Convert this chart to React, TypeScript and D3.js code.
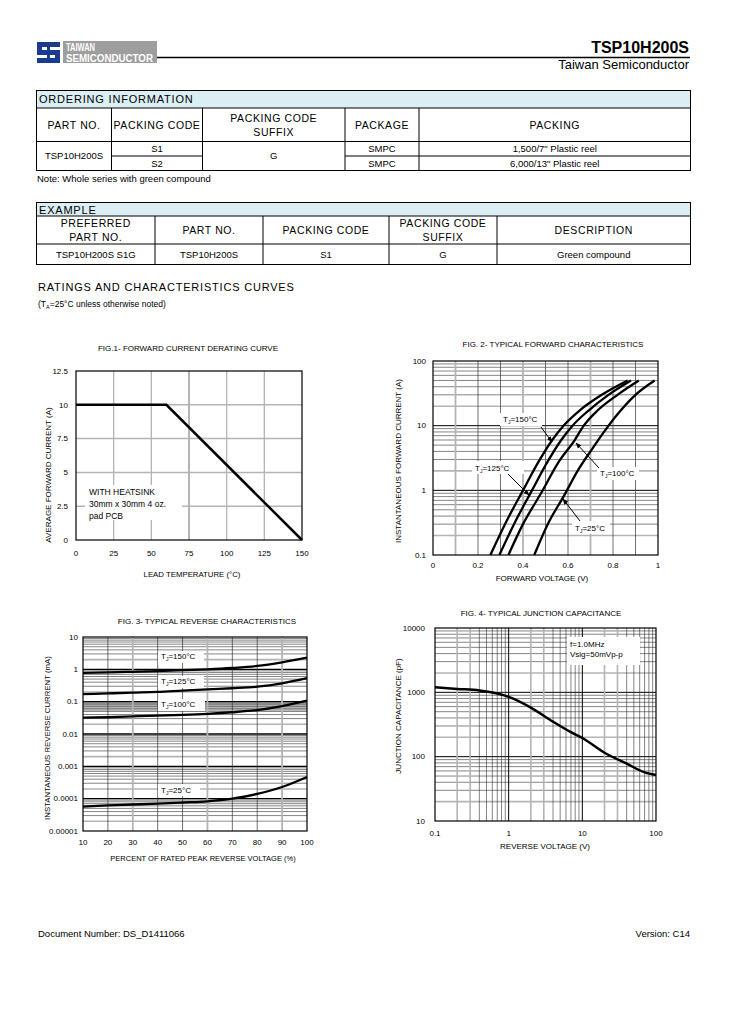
import React from 'react';
import * as d3 from 'd3';

const FONT = '"Liberation Sans", Arial, Helvetica, sans-serif';

// ---------- Tables ----------
const orderingHeaders = [['PART NO.'], ['PACKING CODE'], ['PACKING CODE', 'SUFFIX'], ['PACKAGE'], ['PACKING']];
const orderingPartNo = 'TSP10H200S';
const orderingPackingCodes = ['S1', 'S2'];
const orderingSuffix = 'G';
const orderingPackages = ['SMPC', 'SMPC'];
const orderingPacking = ['1,500/7" Plastic reel', '6,000/13" Plastic reel'];
const exampleHeaders = [['PREFERRED', 'PART NO.'], ['PART NO.'], ['PACKING CODE'], ['PACKING CODE', 'SUFFIX'], ['DESCRIPTION']];
const exampleRow = ['TSP10H200S S1G', 'TSP10H200S', 'S1', 'G', 'Green compound'];

// ---------- Fig 1 ----------
const fig1Temp = [0, 60, 150];
const fig1Current = [10, 10, 0];
const fig1XTicks = [0, 25, 50, 75, 100, 125, 150];
const fig1YTicks = [0, 2.5, 5, 7.5, 10, 12.5];

// ---------- Fig 2 ----------
const fig2V150 = [0.255, 0.32, 0.4, 0.47, 0.53, 0.58, 0.65, 0.75, 0.865];
const fig2I150 = [0.1, 0.3, 1.0, 2.8, 6, 10, 17, 30, 50];
const fig2V125 = [0.295, 0.36, 0.44, 0.51, 0.57, 0.62, 0.69, 0.78, 0.88];
const fig2I125 = [0.1, 0.3, 1.0, 2.8, 6, 10, 17, 30, 50];
const fig2V100 = [0.335, 0.4, 0.48, 0.56, 0.63, 0.67, 0.73, 0.82, 0.915];
const fig2I100 = [0.1, 0.3, 0.9, 2.8, 6, 10, 17, 30, 50];
const fig2V25 = [0.45, 0.51, 0.58, 0.65, 0.71, 0.76, 0.82, 0.9, 0.985];
const fig2I25 = [0.1, 0.3, 0.8, 2.2, 4.5, 8, 15, 30, 50];
const fig2XTicks = [0, 0.2, 0.4, 0.6, 0.8, 1];
const fig2YTicks = [0.1, 1, 10, 100];

// ---------- Fig 3 ----------
const fig3Percent = [10, 20, 30, 40, 50, 60, 70, 80, 90, 100];
const fig3I150 = [0.78, 0.8, 0.84, 0.88, 0.94, 1.0, 1.1, 1.27, 1.65, 2.3];
const fig3I125 = [0.17, 0.18, 0.19, 0.2, 0.22, 0.24, 0.26, 0.29, 0.37, 0.53];
const fig3I100 = [0.032, 0.033, 0.035, 0.037, 0.039, 0.042, 0.047, 0.055, 0.073, 0.107];
const fig3I25 = [0.000057, 0.000062, 0.000066, 0.00007, 0.000076, 0.000083, 0.0001, 0.00014, 0.00023, 0.00047];
const fig3YTicks = [10, 1, 0.1, 0.01, 0.001, 0.0001, 0.00001];
const fig3YTickLabels = ['10', '1', '0.1', '0.01', '0.001', '0.0001', '0.00001'];

// ---------- Fig 4 ----------
const fig4Voltage = [0.1, 0.2, 0.4, 0.7, 1, 2, 4, 7, 10, 20, 40, 70, 100];
const fig4Cap = [1200, 1130, 1070, 960, 850, 580, 350, 240, 195, 115, 78, 57, 52];
const fig4XTicks = [0.1, 1, 10, 100];
const fig4YTicks = [10, 100, 1000, 10000];

type GL = { v: number; gray: boolean; major: boolean };

function logGrid(min: number, max: number, grayMs: number[]): GL[] {
  const out: GL[] = [];
  const e0 = Math.round(Math.log10(min));
  const e1 = Math.round(Math.log10(max));
  for (let e = e0; e < e1; e++) {
    const base = Math.pow(10, e);
    for (let m = 1; m < 10; m++) {
      if (e === e0 && m === 1) continue;
      out.push({ v: m * base, gray: grayMs.includes(m), major: m === 1 });
    }
  }
  return out;
}

const GRAY = '#b4b4b4';

function gridStroke(g: GL) {
  if (g.gray) return { stroke: GRAY, strokeWidth: 1.6 };
  if (g.major) return { stroke: '#000', strokeWidth: 1 };
  return { stroke: '#333', strokeWidth: 0.6 };
}

function TJ({ x, y, t, anchor = 'start' }: { x: number; y: number; t: string; anchor?: string }) {
  return (
    <text x={x} y={y} fontSize={8} fontFamily={FONT} textAnchor={anchor as any}>
      T<tspan fontSize={5} dy={2}>J</tspan>
      <tspan dy={-2}>={t}°C</tspan>
    </text>
  );
}

function Arrow({ x1, y1, x2, y2 }: { x1: number; y1: number; x2: number; y2: number }) {
  return <line x1={x1} y1={y1} x2={x2} y2={y2} stroke="#000" strokeWidth={1} markerEnd="url(#arr)" />;
}

function Cell({ x, y, lines, size = 10.5, ls = 0.6, lh = 14 }: any) {
  const n = lines.length;
  return (
    <g>
      {lines.map((t: string, i: number) => (
        <text key={i} x={x} y={y + (i - (n - 1) / 2) * lh} dy="0.36em" textAnchor="middle" fontSize={size} letterSpacing={ls} fontFamily={FONT}>
          {t}
        </text>
      ))}
    </g>
  );
}

function Fig1() {
  const x = d3.scaleLinear().domain([0, 150]).range([76, 302]);
  const y = d3.scaleLinear().domain([0, 12.5]).range([540, 371]);
  const line = d3.line<number>().x((_, i) => x(fig1Temp[i])).y((d) => y(d));
  return (
    <g fontFamily={FONT}>
      <text x={188} y={351} fontSize={8} textAnchor="middle">FIG.1- FORWARD CURRENT DERATING CURVE</text>
      {fig1XTicks.slice(1, -1).map((t) => (
        <line key={'v' + t} x1={x(t)} x2={x(t)} y1={371} y2={540} stroke={GRAY} strokeWidth={t === 75 ? 2 : 1.3} />
      ))}
      {fig1YTicks.slice(1, -1).map((t) => (
        <line key={'h' + t} x1={76} x2={302} y1={y(t)} y2={y(t)} stroke={GRAY} strokeWidth={1.5} />
      ))}
      <rect x={85} y={485} width={97} height={35} fill="#fff" />
      <text x={89} y={495} fontSize={8.5}>WITH HEATSINK</text>
      <text x={89} y={507} fontSize={8.5}>30mm x 30mm 4 oz.</text>
      <text x={89} y={519} fontSize={8.5}>pad PCB</text>
      <rect x={76} y={371} width={226} height={169} fill="none" stroke="#000" strokeWidth={1.2} />
      <path d={line(fig1Current) || ''} fill="none" stroke="#000" strokeWidth={2.5} />
      {fig1XTicks.map((t) => (
        <text key={'xl' + t} x={x(t)} y={556} fontSize={8} textAnchor="middle">{t}</text>
      ))}
      {fig1YTicks.map((t) => (
        <text key={'yl' + t} x={68} y={y(t)} dy="0.35em" fontSize={8} textAnchor="end">{t}</text>
      ))}
      <text x={192} y={577} fontSize={7.8} textAnchor="middle">LEAD TEMPERATURE (°C)</text>
      <text transform="translate(48,475) rotate(-90)" dy="0.35em" fontSize={8} textAnchor="middle">AVERAGE FORWARD CURRENT (A)</text>
    </g>
  );
}

function Fig2() {
  const x = d3.scaleLinear().domain([0, 1]).range([433, 658]);
  const y = d3.scaleLog().domain([0.1, 100]).range([555, 361]);
  const mk = (vs: number[], is: number[]) =>
    d3.line<number>().x((_, i) => x(vs[i])).y((d) => y(d)).curve(d3.curveMonotoneX)(is) || '';
  const vgrid = d3.range(1, 10).map((k) => k / 10);
  const hgrid = logGrid(0.1, 100, [2]);
  return (
    <g fontFamily={FONT}>
      <text x={553} y={347} fontSize={8} textAnchor="middle">FIG. 2- TYPICAL FORWARD CHARACTERISTICS</text>
      {hgrid.map((g, i) => (
        <line key={'h' + i} x1={433} x2={658} y1={y(g.v)} y2={y(g.v)} {...gridStroke(g)} />
      ))}
      {vgrid.map((v, i) => {
        const gray = i % 3 === 0;
        return <line key={'v' + i} x1={x(v)} x2={x(v)} y1={361} y2={555} stroke={gray ? GRAY : '#333'} strokeWidth={gray ? 1.8 : 0.7} />;
      })}
      <rect x={433} y={361} width={225} height={194} fill="none" stroke="#000" strokeWidth={1.2} />
      <path d={mk(fig2V150, fig2I150)} fill="none" stroke="#000" strokeWidth={2.3} />
      <path d={mk(fig2V125, fig2I125)} fill="none" stroke="#000" strokeWidth={2.3} />
      <path d={mk(fig2V100, fig2I100)} fill="none" stroke="#000" strokeWidth={2.3} />
      <path d={mk(fig2V25, fig2I25)} fill="none" stroke="#000" strokeWidth={2.3} />
      <rect x={500} y={413} width={42} height={13} fill="#fff" />
      <TJ x={503} y={422} t="150" />
      <Arrow x1={541} y1={427} x2={552} y2={442} />
      <rect x={472} y={461} width={52} height={13} fill="#fff" />
      <TJ x={475} y={470.5} t="125" />
      <Arrow x1={508} y1={474} x2={529} y2={495} />
      <rect x={597} y={467} width={42} height={13} fill="#fff" />
      <TJ x={600} y={476} t="100" />
      <Arrow x1={599} y1={468} x2={576} y2={443} />
      <rect x={572} y={521} width={38} height={13} fill="#fff" />
      <TJ x={575} y={530.5} t="25" />
      <Arrow x1={580} y1={521} x2={563} y2={499} />
      {fig2XTicks.map((t) => (
        <text key={'xl' + t} x={x(t)} y={568} fontSize={8} textAnchor="middle">{t}</text>
      ))}
      {fig2YTicks.map((t) => (
        <text key={'yl' + t} x={426} y={y(t)} dy="0.35em" fontSize={8} textAnchor="end">{t}</text>
      ))}
      <text x={542} y={581} fontSize={8} textAnchor="middle">FORWARD VOLTAGE (V)</text>
      <text transform="translate(398,461) rotate(-90)" dy="0.35em" fontSize={8} textAnchor="middle">INSTANTANEOUS FORWARD CURRENT (A)</text>
    </g>
  );
}

function Fig3() {
  const x = d3.scaleLinear().domain([10, 100]).range([83, 307]);
  const y = d3.scaleLog().domain([0.00001, 10]).range([831, 637]);
  const mk = (is: number[]) =>
    d3.line<number>().x((_, i) => x(fig3Percent[i])).y((d) => y(d)).curve(d3.curveMonotoneX)(is) || '';
  const hgrid = logGrid(0.00001, 10, [2]);
  return (
    <g fontFamily={FONT}>
      <text x={207} y={624} fontSize={8} textAnchor="middle">FIG. 3- TYPICAL REVERSE CHARACTERISTICS</text>
      <rect x={83} y={y(0.1)} width={224} height={y(0.05) - y(0.1)} fill="#c4c4c4" />
      {hgrid.map((g, i) => (
        <line key={'h' + i} x1={83} x2={307} y1={y(g.v)} y2={y(g.v)} {...gridStroke(g)} strokeWidth={g.major ? 1.4 : gridStroke(g).strokeWidth} />
      ))}
      {fig3Percent.slice(1, -1).map((p) => {
        const gray = p === 30 || p === 60 || p === 90;
        return <line key={'v' + p} x1={x(p)} x2={x(p)} y1={637} y2={831} stroke={gray ? GRAY : '#333'} strokeWidth={gray ? 1.8 : 0.7} />;
      })}
      <rect x={83} y={637} width={224} height={194} fill="none" stroke="#000" strokeWidth={1.2} />
      <rect x={158} y={651} width={46} height={12} fill="#fff" />
      <TJ x={161} y={659} t="150" />
      <rect x={158} y={676} width={46} height={12} fill="#fff" />
      <TJ x={161} y={684} t="125" />
      <rect x={158} y={699} width={47} height={12} fill="#fff" />
      <TJ x={161} y={707} t="100" />
      <rect x={158} y={784} width={42} height={12} fill="#fff" />
      <TJ x={161} y={792.5} t="25" />
      <path d={mk(fig3I150)} fill="none" stroke="#000" strokeWidth={2.3} />
      <path d={mk(fig3I125)} fill="none" stroke="#000" strokeWidth={2.3} />
      <path d={mk(fig3I100)} fill="none" stroke="#000" strokeWidth={2.3} />
      <path d={mk(fig3I25)} fill="none" stroke="#000" strokeWidth={2.3} />
      {fig3Percent.map((t) => (
        <text key={'xl' + t} x={x(t)} y={845} fontSize={8} textAnchor="middle">{t}</text>
      ))}
      {fig3YTicks.map((t, i) => (
        <text key={'yl' + i} x={78} y={y(t)} dy="0.35em" fontSize={8} textAnchor="end">{fig3YTickLabels[i]}</text>
      ))}
      <text x={203} y={861} fontSize={7.5} textAnchor="middle">PERCENT OF RATED PEAK REVERSE VOLTAGE (%)</text>
      <text transform="translate(47,738) rotate(-90)" dy="0.35em" fontSize={7.8} textAnchor="middle">INSTANTANEOUS REVERSE CURRENT (mA)</text>
    </g>
  );
}

function Fig4() {
  const x = d3.scaleLog().domain([0.1, 100]).range([435, 656]);
  const y = d3.scaleLog().domain([10, 10000]).range([821, 628]);
  const line = d3.line<number>().x((_, i) => x(fig4Voltage[i])).y((d) => y(d)).curve(d3.curveMonotoneX);
  const vgrid = logGrid(0.1, 100, [2, 3]);
  const hgrid = logGrid(10, 10000, [2]);
  return (
    <g fontFamily={FONT}>
      <text x={541} y={616} fontSize={8} textAnchor="middle">FIG. 4- TYPICAL JUNCTION CAPACITANCE</text>
      {hgrid.map((g, i) => (
        <line key={'h' + i} x1={435} x2={656} y1={y(g.v)} y2={y(g.v)} {...gridStroke(g)} />
      ))}
      {vgrid.map((g, i) => (
        <line key={'v' + i} x1={x(g.v)} x2={x(g.v)} y1={628} y2={821} {...gridStroke(g)} />
      ))}
      <rect x={435} y={628} width={221} height={193} fill="none" stroke="#000" strokeWidth={1.2} />
      <rect x={567} y={637} width={73} height={28} fill="#fff" />
      <text x={570} y={647} fontSize={8}>f=1.0MHz</text>
      <text x={570} y={656.5} fontSize={8}>Vsig=50mVp-p</text>
      <path d={line(fig4Cap) || ''} fill="none" stroke="#000" strokeWidth={2.5} />
      {fig4XTicks.map((t) => (
        <text key={'xl' + t} x={x(t)} y={836} fontSize={8} textAnchor="middle">{t}</text>
      ))}
      {fig4YTicks.map((t) => (
        <text key={'yl' + t} x={425} y={y(t)} dy="0.35em" fontSize={8} textAnchor="end">{t}</text>
      ))}
      <text x={545} y={849} fontSize={8} textAnchor="middle">REVERSE VOLTAGE (V)</text>
      <text transform="translate(398,716) rotate(-90)" dy="0.35em" fontSize={8} textAnchor="middle">JUNCTION CAPACITANCE (pF)</text>
    </g>
  );
}

function Header() {
  return (
    <g fontFamily={FONT}>
      {/* logo icon */}
      <g fill="#1b3b8f">
        <rect x={37} y={42} width={23} height={5} />
        <rect x={37} y={42} width={5} height={12} />
        <rect x={37} y={50} width={23} height={5} />
        <rect x={55} y={50} width={5} height={12} />
        <rect x={37} y={58} width={23} height={5} />
        <rect x={47} y={44} width={3} height={17} />
      </g>
      <rect x={63} y={41} width={94} height={22} fill="#9e9e9e" />
      <text x={66} y={51} fontSize={10.5} fontWeight="bold" fill="#fff" textLength={29} lengthAdjust="spacingAndGlyphs">TAIWAN</text>
      <text x={66} y={61.5} fontSize={10.5} fontWeight="bold" fill="#fff" textLength={87} lengthAdjust="spacingAndGlyphs">SEMICONDUCTOR</text>
      <line x1={157} x2={690} y1={57.5} y2={57.5} stroke="#000" strokeWidth={1.3} />
      <text x={689} y={53} fontSize={16} fontWeight="bold" textAnchor="end">TSP10H200S</text>
      <text x={689} y={69} fontSize={13} textAnchor="end">Taiwan Semiconductor</text>
    </g>
  );
}

function OrderingTable() {
  const cols = [36.5, 111.5, 202.5, 345, 419, 690.5];
  const rows = [90.5, 108, 141.5, 156, 170.5];
  const mid = (i: number) => (cols[i] + cols[i + 1]) / 2;
  return (
    <g fontFamily={FONT}>
      <rect x={cols[0]} y={rows[0]} width={cols[5] - cols[0]} height={rows[1] - rows[0]} fill="#dbeef3" />
      <text x={39} y={103} fontSize={11} letterSpacing={0.8}>ORDERING INFORMATION</text>
      {orderingHeaders.map((h, i) => (
        <Cell key={i} x={mid(i)} y={(rows[1] + rows[2]) / 2} lines={h} />
      ))}
      <Cell x={mid(0)} y={(rows[2] + rows[4]) / 2} lines={[orderingPartNo]} size={9.5} ls={0} />
      <Cell x={mid(2)} y={(rows[2] + rows[4]) / 2} lines={[orderingSuffix]} size={9.5} ls={0} />
      {orderingPackingCodes.map((c, r) => (
        <g key={r}>
          <Cell x={mid(1)} y={(rows[2 + r] + rows[3 + r]) / 2} lines={[c]} size={9.5} ls={0} />
          <Cell x={mid(3)} y={(rows[2 + r] + rows[3 + r]) / 2} lines={[orderingPackages[r]]} size={9.5} ls={0} />
          <Cell x={mid(4)} y={(rows[2 + r] + rows[3 + r]) / 2} lines={[orderingPacking[r]]} size={9.5} ls={0} />
        </g>
      ))}
      <g stroke="#000" strokeWidth={1} fill="none">
        <rect x={cols[0]} y={rows[0]} width={cols[5] - cols[0]} height={rows[4] - rows[0]} />
        <line x1={cols[0]} x2={cols[5]} y1={rows[1]} y2={rows[1]} />
        <line x1={cols[0]} x2={cols[5]} y1={rows[2]} y2={rows[2]} />
        <line x1={cols[1]} x2={cols[2]} y1={rows[3]} y2={rows[3]} />
        <line x1={cols[3]} x2={cols[5]} y1={rows[3]} y2={rows[3]} />
        {cols.slice(1, 5).map((c) => (
          <line key={c} x1={c} x2={c} y1={rows[1]} y2={rows[4]} />
        ))}
      </g>
      <text x={37} y={182} fontSize={9.5}>Note: Whole series with green compound</text>
    </g>
  );
}

function ExampleTable() {
  const cols = [36.5, 155, 263, 389, 497, 690.5];
  const rows = [202.5, 216, 244, 264.5];
  const mid = (i: number) => (cols[i] + cols[i + 1]) / 2;
  return (
    <g fontFamily={FONT}>
      <rect x={cols[0]} y={rows[0]} width={cols[5] - cols[0]} height={rows[1] - rows[0]} fill="#dbeef3" />
      <text x={39} y={213.5} fontSize={11} letterSpacing={0.8}>EXAMPLE</text>
      {exampleHeaders.map((h, i) => (
        <Cell key={i} x={mid(i)} y={(rows[1] + rows[2]) / 2} lines={h} />
      ))}
      {exampleRow.map((t, i) => (
        <Cell key={'r' + i} x={mid(i)} y={(rows[2] + rows[3]) / 2} lines={[t]} size={9.5} ls={0} />
      ))}
      <g stroke="#000" strokeWidth={1} fill="none">
        <rect x={cols[0]} y={rows[0]} width={cols[5] - cols[0]} height={rows[3] - rows[0]} />
        <line x1={cols[0]} x2={cols[5]} y1={rows[1]} y2={rows[1]} />
        <line x1={cols[0]} x2={cols[5]} y1={rows[2]} y2={rows[2]} />
        {cols.slice(1, 5).map((c) => (
          <line key={c} x1={c} x2={c} y1={rows[1]} y2={rows[3]} />
        ))}
      </g>
      <text x={38} y={291} fontSize={11} letterSpacing={0.8}>RATINGS AND CHARACTERISTICS CURVES</text>
      <text x={38} y={307} fontSize={8.5}>
        (T<tspan fontSize={5.5} dy={2}>A</tspan>
        <tspan dy={-2}>=25°C unless otherwise noted)</tspan>
      </text>
    </g>
  );
}

export default function App() {
  return (
    <svg width={729} height={1032} style={{ position: 'absolute', left: 0, top: 0, background: '#fff' }}>
      <defs>
        <marker id="arr" viewBox="0 0 10 10" refX={9} refY={5} markerWidth={6} markerHeight={6} orient="auto">
          <path d="M0,1 L10,5 L0,9 z" fill="#000" />
        </marker>
      </defs>
      <rect width={729} height={1032} fill="#fff" />
      <Header />
      <OrderingTable />
      <ExampleTable />
      <Fig1 />
      <Fig2 />
      <Fig3 />
      <Fig4 />
      <g fontFamily={FONT} fontSize={9.5}>
        <text x={38} y={937}>Document Number: DS_D1411066</text>
        <text x={690} y={937} textAnchor="end">Version: C14</text>
      </g>
    </svg>
  );
}
